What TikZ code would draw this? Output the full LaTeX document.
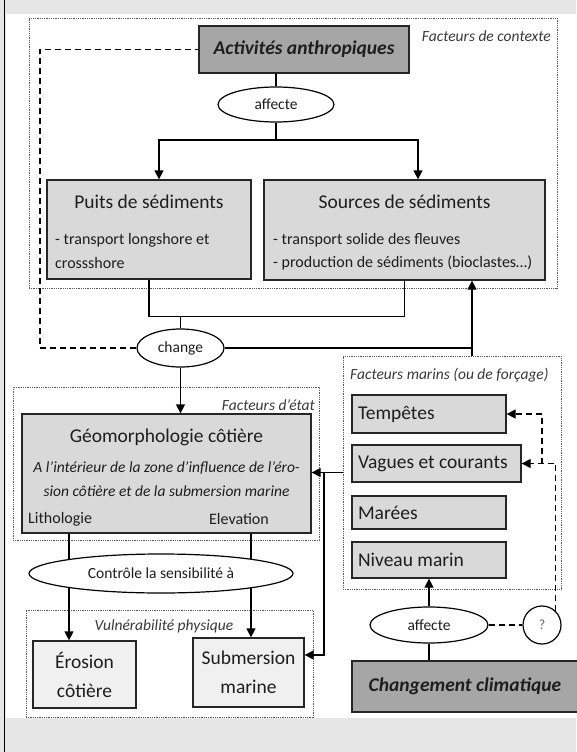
\documentclass[tikz,border=0pt]{standalone}
\usepackage{fontspec}
\setmainfont{Carlito}
\usetikzlibrary{shapes.geometric,arrows.meta,calc}
\definecolor{bggray}{HTML}{E6E6E6}
\definecolor{boxgray}{HTML}{D9D9D9}
\definecolor{lightbox}{HTML}{F0F0F0}
\definecolor{darkbox}{HTML}{A6A6A6}
\definecolor{txt}{HTML}{1E1E1E}
\definecolor{lblc}{HTML}{3A3A3A}
\newcommand{\fsz}[1]{\fontsize{#1}{#1}\selectfont}
\begin{document}
\begin{tikzpicture}[x=1pt,y=-1pt,
  box/.style={draw=black!85, line width=1.3, fill=boxgray, inner sep=0, text=txt},
  frame/.style={draw=black!65, dash pattern=on 0.9pt off 0.9pt, line width=0.9, inner sep=0},
  ell/.style={ellipse, draw=black, line width=1.2, fill=white, inner sep=0, text=txt, font=\fsz{15.5}},
  lbl/.style={font=\fsz{15.5}\itshape, text=lblc, inner sep=0},
  title/.style={font=\fsz{19.5}, text=txt, inner sep=0},
  body/.style={font=\fsz{16}, text=txt, inner sep=0},
  ital/.style={font=\fsz{15.5}\itshape, text=txt, inner sep=0},
  mtxt/.style={font=\fsz{19.5}, text=txt, inner sep=0, anchor=west},
  ln/.style={line width=1.3, draw=black},
  arr/.style={ln, -{Triangle[length=9pt,width=9pt]}},
  dashln/.style={line width=1.2, draw=black, dash pattern=on 6pt off 4pt},
  dasharr/.style={dashln, -{Triangle[length=9pt,width=9pt]}}
]
\useasboundingbox (0,0) rectangle (576,752);
\fill[bggray] (0,0) rectangle (576,752);
\fill[white] (6,14) rectangle (576,718);
\draw[line width=1.5] (4.5,0) -- (4.5,752);

% dotted frames
\node[frame, minimum width=528, minimum height=270] (fctx) at (293,153) {};
\node[frame, minimum width=306, minimum height=153] (fetat) at (166,463.5) {};
\node[frame, minimum width=218, minimum height=233] (fmar) at (452,472.5) {};
\node[frame, minimum width=287, minimum height=107] (fvul) at (169.5,663.5) {};

% frame labels
\node[lbl, anchor=east] (lctx) at (551,36) {Facteurs de contexte};
\node[lbl, anchor=east] (letat) at (315,405) {Facteurs d’état};
\node[lbl, anchor=west] (lmar) at (350,375) {Facteurs marins (ou de forçage)};
\node[lbl] (lvul) at (164,626) {Vulnérabilité physique};

% top part
\node[box, fill=darkbox, minimum width=210, minimum height=47, font=\fsz{19.5}\bfseries\itshape] (act) at (304,49.5) {Activités anthropiques};
\node[ell, minimum width=116, minimum height=35] (aff1) at (276,104.5) {affecte};

\node[box, minimum width=204, minimum height=99] (puits) at (149,229.5) {};
\node[title] (puitsT) at (149,202) {Puits de sédiments};
\node[body, anchor=west] (puitsB1) at (55,240) {- transport longshore et};
\node[body, anchor=west] (puitsB2) at (55,263) {crossshore};

\node[box, minimum width=281, minimum height=100] (src) at (404.5,230) {};
\node[title] (srcT) at (404.5,202) {Sources de sédiments};
\node[body, anchor=west] (srcB1) at (273,240) {- transport solide des fleuves};
\node[body, anchor=west] (srcB2) at (273,263) {- production de sédiments (bioclastes…)};

\node[ell, minimum width=87, minimum height=38] (chg) at (180.5,348) {change};

% geomorphology
\node[box, minimum width=289, minimum height=119] (geo) at (166.5,473.5) {};
\node[title] (geoT) at (166.5,437) {Géomorphologie côtière};
\node[ital] (geoI1) at (166.5,468) {A l’intérieur de la zone d’influence de l’éro-};
\node[ital] (geoI2) at (166.5,491) {sion côtière et de la submersion marine};
\node[body, anchor=west] (lith) at (28,519) {Lithologie};
\node[body, anchor=east] (elev) at (269,519) {Elevation};

% vulnerability
\node[box, fill=lightbox, minimum width=103, minimum height=67, align=center, font=\fontsize{19.5}{29}\selectfont] (ero) at (84.5,674.5) {Érosion\\côtière};
\node[box, fill=lightbox, minimum width=111, minimum height=69, align=center, font=\fontsize{19.5}{29}\selectfont] (sub) at (248.5,672.5) {Submersion\\marine};

% marine factors
\node[box, minimum width=154, minimum height=38] (temp) at (429,414) {};
\node[mtxt] (tempT) at ([xshift=6.5]temp.west) {Tempêtes};
\node[box, minimum width=169, minimum height=37] (vag) at (436.5,463.5) {};
\node[mtxt] (vagT) at ([xshift=6.5]vag.west) {Vagues et courants};
\node[box, minimum width=154, minimum height=33] (mar) at (429,512.5) {};
\node[mtxt] (marT) at ([xshift=6.5]mar.west) {Marées};
\node[box, minimum width=154, minimum height=36] (niv) at (429,560) {};
\node[mtxt] (nivT) at ([xshift=6.5]niv.west) {Niveau marin};

\node[ell, minimum width=118, minimum height=36] (aff2) at (429,625) {affecte};
\node[circle, draw=black, line width=1.2, fill=white, minimum size=38, inner sep=0, font=\fsz{14}, text=black!60] (q) at (542,625) {?};
\node[box, fill=darkbox, minimum width=226, minimum height=51, font=\fsz{19.5}\bfseries\itshape] (cc) at (465,686.5) {Changement climatique};

% connectors - top
\draw[ln] (act.south -| aff1.north) -- (aff1.north);
\coordinate (j1) at (276,140);
\draw[ln] (aff1.south) -- (j1);
\draw[arr] (j1) -| ([xshift=10]puits.north);
\draw[arr] (j1) -| ([xshift=13.5]src.north);

\coordinate (pb) at ([yshift=-37]puits.south);
\draw[ln] (puits.south) -- (pb) -| (src.south);
\coordinate (j2) at (chg.north |- pb);
\draw[ln] (j2) -- (chg.north);

\coordinate (d1) at (40,348);
\draw[dashln] (chg.west) -- (d1) |- (act.west);

\coordinate (mt) at (472,356);
\draw[ln] (chg.east) -- (chg.east -| mt);
\draw[arr] (mt) -- (mt |- src.south);

\draw[arr] (chg.south) -- (chg.south |- geo.north);

% geo to vulnerability
\coordinate (ea) at ([xshift=-15.5]ero.north);
\coordinate (sa) at ([xshift=2.5]sub.north);
\draw[arr] (ea |- geo.south) -- (ea);
\draw[arr] (sa |- geo.south) -- (sa);
\node[ell, minimum width=264, minimum height=39] (ctrl) at (161,573.5) {Contrôle la sensibilité à};

% marine to geo / submersion
\draw[arr] (fmar.west) -- (fmar.west -| geo.east);
\coordinate (br) at (324,472.5);
\coordinate (se) at ([yshift=17.5]sub.east);
\draw[arr] (br) |- (se);

% climate change
\draw[ln] (cc.north -| aff2.south) -- (aff2.south);
\draw[arr] (aff2.north) -- (niv.south);
\draw[dashln] (aff2.east) -- (q.west);
\draw[dasharr] (q.north east) |- (vag.east);
\draw[dasharr] (q.north |- vag.east) |- (temp.east);
\end{tikzpicture}
\end{document}
